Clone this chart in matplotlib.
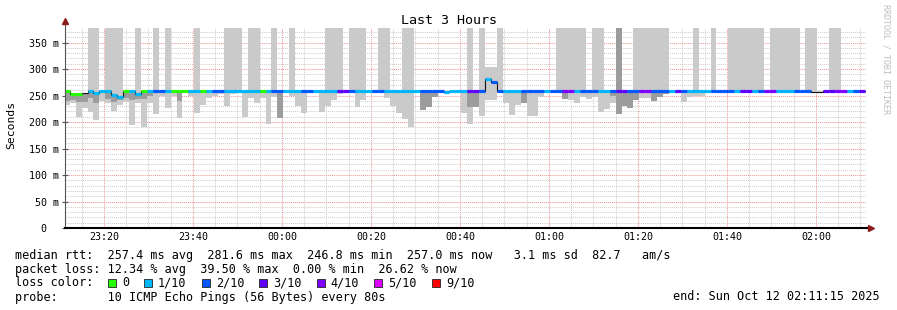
import matplotlib
matplotlib.use("Agg")
import matplotlib.pyplot as plt
from matplotlib.patches import Rectangle

#############
# the data  #
#############
# one sample every 80 s, x axis in minutes after 23:11:15
sample_sec = 80
x_ticklabels = ["23:20", "23:40", "00:00", "00:20", "00:40", "01:00", "01:20", "01:40", "02:00"]

# median rtt per sample (ms)
median = [
    258, 253, 252, 254, 258, 254, 258, 258, 251, 247,
    258, 258, 252, 258, 258, 258, 258, 258, 258, 258,
    258, 258, 258, 258, 258, 258, 258, 258, 258, 258,
    258, 258, 258, 258, 258, 258, 258, 258, 258, 258,
    258, 258, 258, 258, 258, 258, 258, 258, 258, 258,
    258, 258, 258, 258, 258, 258, 258, 258, 258, 258,
    258, 258, 258, 258, 256, 258, 258, 258, 258, 258,
    258, 282, 275, 258, 258, 258, 258, 258, 258, 258,
    258, 258, 258, 258, 258, 258, 258, 258, 258, 258,
    258, 258, 258, 258, 258, 258, 258, 258, 258, 258,
    258, 258, 258, 258, 258, 258, 258, 258, 258, 258,
    258, 258, 258, 258, 258, 258, 258, 258, 258, 258,
    258, 258, 258, 258, 258, 258, 257, 257, 258, 258,
    258, 258, 258, 258, 258,
]

# lost pings out of 10 (-1 = no colour drawn)
loss = [
    0, 0, 0, -1, 1, 1, 1, 1, 1, 1,
    0, 1, 1, 0, 1, 2, 2, 1, 0, 0,
    0, 1, 1, 0, 1, 2, 2, 1, 1, 1,
    1, 1, 1, 0, 1, 2, 2, 1, 1, 1,
    2, 2, 1, 1, 1, 1, 3, 3, 2, 1,
    1, 1, 2, 2, 1, 1, 1, 1, 1, 1,
    2, 2, 2, 2, 1, 1, 1, 1, 3, 3,
    2, 1, 2, 2, 1, 1, 1, 2, 2, 2,
    2, 1, 2, 2, 4, 4, 1, 2, 2, 2,
    1, 1, 2, 3, 3, 2, 2, 4, 4, 2,
    2, 2, 1, 3, 2, 1, 1, 1, 1, 2,
    2, 2, 2, 1, 3, 3, 1, 2, 4, 4,
    1, 1, 1, 2, 2, 2, -1, -1, 3, 3,
    4, 4, 1, 2, 3,
]

# smoke: lowest ping (ms)
smoke_lo = [
    232, 236, 210, 226, 219, 204, 239, 236, 221, 232,
    238, 194, 235, 191, 236, 216, 250, 227, 249, 208,
    254, 250, 217, 233, 245, 249, 252, 230, 252, 254,
    210, 245, 236, 246, 197, 247, 208, 254, 249, 230,
    217, 254, 254, 219, 230, 241, 252, 254, 254, 228,
    241, 254, 254, 254, 246, 231, 217, 205, 190, 254,
    222, 228, 247, 254, 254, 254, 254, 217, 197, 229,
    211, 241, 241, 254, 235, 214, 232, 236, 211, 211,
    247, 254, 254, 254, 244, 242, 236, 247, 244, 247,
    219, 225, 235, 215, 230, 227, 241, 245, 245, 240,
    247, 252, 254, 254, 238, 247, 249, 249, 254, 254,
    254, 254, 254, 254, 254, 254, 254, 254, 254, 254,
    254, 254, 254, 254, 254, 254, 254, 254, 254, 254,
    254, 254, 254, 254, 254,
]

# smoke: highest ping (ms), 0 = nothing above the median
smoke_hi = [
    0, 0, 0, 0, 377, 377, 0, 377, 377, 377,
    0, 0, 377, 0, 0, 377, 0, 377, 0, 0,
    0, 0, 377, 0, 0, 0, 0, 377, 377, 377,
    0, 377, 377, 0, 0, 377, 0, 0, 377, 0,
    0, 0, 0, 0, 377, 377, 377, 0, 377, 377,
    377, 0, 0, 377, 377, 0, 0, 377, 377, 0,
    0, 0, 0, 0, 0, 0, 0, 0, 377, 0,
    377, 303, 303, 377, 0, 0, 0, 0, 0, 0,
    0, 0, 0, 377, 377, 377, 377, 377, 0, 377,
    377, 0, 0, 377, 0, 0, 377, 377, 377, 377,
    377, 377, 0, 0, 0, 0, 377, 0, 0, 377,
    0, 0, 377, 377, 377, 377, 377, 377, 0, 377,
    377, 377, 377, 377, 0, 377, 377, 0, 0, 377,
    377, 0, 0, 0, 0,
]

# darker inner smoke (ms), 0 = none; core_hi 0 = up to the median
core_lo = [
    240, 242, 238, 238, 246, 235, 0, 244, 238, 242,
    246, 242, 244, 243, 249, 0, 0, 0, 0, 240,
    0, 0, 0, 0, 0, 0, 0, 0, 0, 0,
    0, 0, 0, 0, 0, 0, 208, 0, 0, 0,
    0, 0, 0, 0, 0, 0, 0, 0, 0, 0,
    0, 0, 0, 0, 0, 0, 0, 0, 0, 0,
    222, 228, 247, 0, 0, 0, 0, 0, 229, 229,
    0, 0, 0, 0, 0, 0, 0, 236, 0, 0,
    0, 0, 0, 254, 244, 0, 0, 0, 0, 0,
    0, 0, 250, 215, 230, 227, 241, 0, 0, 240,
    247, 252, 0, 0, 0, 0, 0, 0, 0, 0,
    0, 0, 0, 0, 0, 0, 0, 0, 0, 0,
    0, 0, 0, 0, 0, 0, 0, 255, 254, 0,
    0, 0, 0, 0, 0,
]
core_hi = [0] * 93 + [377] + [0] * 41

loss_levels = ["0", "1/10", "2/10", "3/10", "4/10", "5/10", "9/10"]
loss_colors = {0: "#26ff00", 1: "#00b8ff", 2: "#0059ff", 3: "#5e00ff",
               4: "#7e00ff", 5: "#dd00ff", 9: "#ff0000"}
rtt_stats = [257.4, 281.6, 246.8, 257.0, 3.1, 82.7]
loss_stats = [12.34, 39.50, 0.00, 26.62]

##########
# figure #
##########
W, H = 897, 310
mono = "DejaVu Sans Mono"
plt.rcParams["font.family"] = mono

fig = plt.figure(figsize=(W / 100, H / 100), dpi=100)
fig.patch.set_facecolor("white")
ax = fig.add_axes([65 / W, (H - 228) / H, 801 / W, 199.8 / H])

step = sample_sec / 60
n = len(median)
left = [(k - 0.2) * step for k in range(n)]

# light smoke
tops = [h if h else m + 1 for h, m in zip(smoke_hi, median)]
ax.bar(left, [t - l for t, l in zip(tops, smoke_lo)], width=step, bottom=smoke_lo,
       align="edge", color="#cacaca", linewidth=0, zorder=2)
# darker core
ctop = [c if c else m for c, m in zip(core_hi, median)]
cheight = [(t - c) if c else 0 for t, c in zip(ctop, core_lo)]
ax.bar(left, cheight, width=step, bottom=core_lo, align="edge",
       color="#9c9c9c", linewidth=0, zorder=3)

# median: thin black step + coloured loss segments
ax.step(left + [left[-1] + step], median + [median[-1]], where="post",
        color="#111111", lw=0.8, zorder=4)
seg = [k for k in range(n) if loss[k] >= 0]
ax.hlines([median[k] for k in seg], [left[k] for k in seg], [left[k] + step for k in seg],
          colors=[loss_colors[loss[k]] for k in seg], lw=2.3, zorder=5)

ax.set_xlim(0, 180)
ax.set_ylim(0, 377)

major_x = [8.75 + 20 * i for i in range(len(x_ticklabels))]
ax.set_xticks(major_x)
ax.set_xticklabels(x_ticklabels, fontsize=7.2)
ax.set_xticks([3.75 + 5 * i for i in range(36)], minor=True)
ax.set_yticks(range(0, 351, 50))
ax.set_yticks(range(0, 377, 10), minor=True)
ax.tick_params(axis="x", which="both", length=0, pad=3)
ax.tick_params(axis="y", which="major", length=4, direction="inout", color="#555555",
               width=0.8, labelleft=False)
ax.tick_params(axis="y", which="minor", length=0)

ax.set_axisbelow(True)
ax.grid(which="minor", color="#cccccc", linestyle=(0, (1, 1)), lw=0.7)
ax.grid(which="major", color="#f09090", linestyle=(0, (1, 1)), lw=0.7)

for s in ["top", "right"]:
    ax.spines[s].set_visible(False)
ax.spines["left"].set_color("#555555")
ax.spines["left"].set_linewidth(0.8)
ax.spines["bottom"].set_color("black")
ax.spines["bottom"].set_linewidth(1.5)
ax.spines["left"].set_zorder(6)
ax.spines["bottom"].set_zorder(6)

# axis arrows
ax.plot([0, 0], [1, 1.03], transform=ax.transAxes, clip_on=False, color="#555555", lw=0.8)
ax.plot([0], [1.035], marker="^", ms=4.5, color="#8b1a1a", transform=ax.transAxes, clip_on=False)
ax.plot([1, 1.004], [0, 0], transform=ax.transAxes, clip_on=False, color="black", lw=1.5)
ax.plot([1.006], [0], marker=">", ms=4.5, color="#8b1a1a", transform=ax.transAxes, clip_on=False)

# y labels rrdtool style
ytr = ax.get_yaxis_transform()
for v in range(0, 351, 50):
    if v:
        ax.text(-6 / 801, v, "%d m" % v, transform=ytr, ha="right", va="center_baseline", fontsize=7.2)
    else:
        ax.text(-19 / 801, v, "0", transform=ytr, ha="right", va="center_baseline", fontsize=7.2)

def fx(px):
    return px / W

def fy(py):
    return 1 - py / H

fig.text(0.5, fy(24), "Last 3 Hours", ha="center", va="baseline", fontsize=9.6)
fig.text(fx(11), fy(125), "Seconds", rotation=90, ha="center", va="center", fontsize=8.2)
fig.text(fx(886), fy(4), "RRDTOOL / TOBI OETIKER", rotation=270, ha="center", va="top",
         fontsize=6, color="#bcbcbc")

# legend
fs = 8.5
row1 = "median rtt:  %.1f ms avg  %.1f ms max  %.1f ms min  %.1f ms now   %.1f ms sd  %.1f   am/s" % tuple(rtt_stats)
row2 = "packet loss: %.2f %% avg  %.2f %% max  %.2f %% min  %.2f %% now" % tuple(loss_stats)
fig.text(fx(14.5), fy(258.5), row1, ha="left", va="baseline", fontsize=fs)
fig.text(fx(14.5), fy(272.5), row2, ha="left", va="baseline", fontsize=fs)
fig.text(fx(14.5), fy(286.5), "loss color:", ha="left", va="baseline", fontsize=fs)
cw = 7.14
bx = 108
for lab in loss_levels:
    key = int(lab.split("/")[0])
    fig.patches.append(Rectangle((fx(bx), fy(287)), 8 / W, 8 / H, transform=fig.transFigure,
                                 facecolor=loss_colors[key], edgecolor="#222222", lw=0.6))
    fig.text(fx(bx + 14), fy(286.5), lab, ha="left", va="baseline", fontsize=fs)
    bx = bx + 14 + len(lab) * cw + 15
fig.text(fx(14.5), fy(300.5), "probe:       10 ICMP Echo Pings (56 Bytes) every 80s",
         ha="left", va="baseline", fontsize=fs)
fig.text(fx(880), fy(300.5), "end: Sun Oct 12 02:11:15 2025", ha="right", va="baseline", fontsize=fs)

fig.savefig("out.png", dpi=100)
